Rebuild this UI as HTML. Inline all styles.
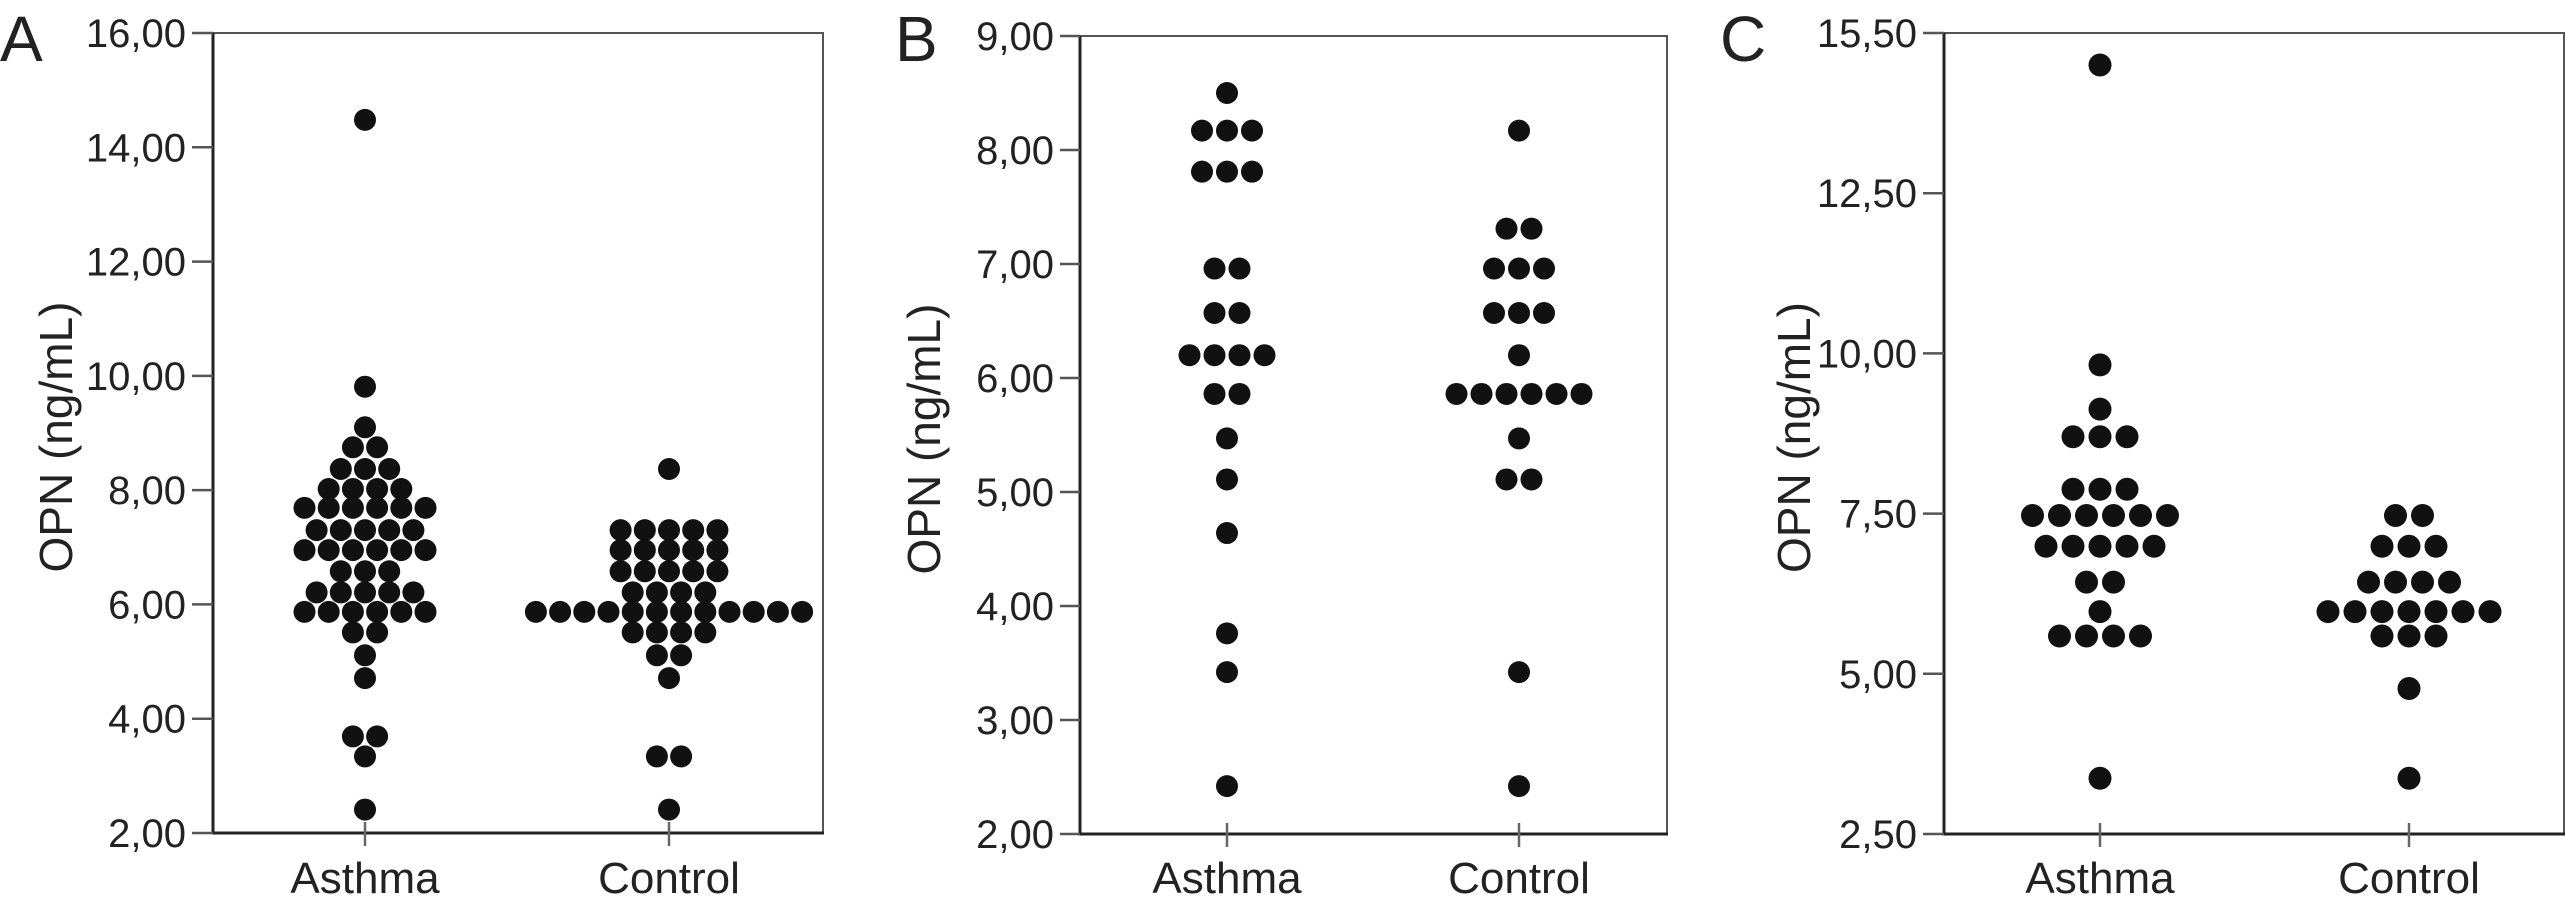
<!DOCTYPE html>
<html><head><meta charset="utf-8">
<style>
html,body{margin:0;padding:0;background:#fff;}
svg{display:block;font-family:"Liberation Sans",Arial,sans-serif;}
</style></head>
<body>
<svg id="fig" width="2566" height="906" viewBox="0 0 2566 906" xmlns="http://www.w3.org/2000/svg"></svg>
<script>
// ---- data ----
const categories = ["Asthma", "Control"];
const aAsthma = [14.48,9.81,9.10,8.75,8.75,8.37,8.37,8.37,8.02,8.02,8.02,8.02,7.69,7.69,7.69,7.69,7.69,7.69,7.30,7.30,7.30,7.30,7.30,6.95,6.95,6.95,6.95,6.95,6.95,6.58,6.58,6.58,6.21,6.21,6.21,6.21,6.21,5.87,5.87,5.87,5.87,5.87,5.87,5.51,5.51,5.11,4.71,3.69,3.69,3.34,2.41];
const aControl = [8.37,7.30,7.30,7.30,7.30,7.30,6.95,6.95,6.95,6.95,6.95,6.58,6.58,6.58,6.58,6.58,6.21,6.21,6.21,6.21,5.87,5.87,5.87,5.87,5.87,5.87,5.87,5.87,5.87,5.87,5.87,5.87,5.51,5.51,5.51,5.51,5.11,5.11,4.71,3.34,3.34,2.41];
const aTicks = ["2,00","4,00","6,00","8,00","10,00","12,00","14,00","16,00"];
const aTickVals = [2,4,6,8,10,12,14,16];
const bAsthma = [8.50,8.17,8.17,8.17,7.81,7.81,7.81,6.96,6.96,6.57,6.57,6.20,6.20,6.20,6.20,5.86,5.86,5.47,5.11,4.64,3.76,3.42,2.42];
const bControl = [8.17,7.31,7.31,6.96,6.96,6.96,6.57,6.57,6.57,6.20,5.86,5.86,5.86,5.86,5.86,5.86,5.47,5.11,5.11,3.42,2.42];
const bTicks = ["2,00","3,00","4,00","5,00","6,00","7,00","8,00","9,00"];
const bTickVals = [2,3,4,5,6,7,8,9];
const cAsthma = [14.5,9.82,9.13,8.70,8.70,8.70,7.88,7.88,7.88,7.47,7.47,7.47,7.47,7.47,7.47,6.99,6.99,6.99,6.99,6.99,6.43,6.43,5.97,5.59,5.59,5.59,5.59,3.37];
const cControl = [7.47,7.47,6.99,6.99,6.99,6.43,6.43,6.43,6.43,5.97,5.97,5.97,5.97,5.97,5.97,5.97,5.59,5.59,5.59,4.77,3.37];
const cTicks = ["2,50","5,00","7,50","10,00","12,50","15,50"];
const cTickVals = [2.5,5,7.5,10,12.5,15];

const NS = "http://www.w3.org/2000/svg";
const svg = document.getElementById("fig");
function el(tag, attrs, parent){
  const e = document.createElementNS(NS, tag);
  for (const k in attrs) e.setAttribute(k, attrs[k]);
  (parent||svg).appendChild(e);
  return e;
}

const panels = [
  {id:"a", letter:"A", lx:0, ly:61, left:213, right:823, top:33, bottom:833, ymin:2, ymax:16,
   tickVals:aTickVals, ticks:aTicks, series:[aAsthma,aControl], cx:[365,669], sp:24.2, r:11, titleX:72, tickLen:21},
  {id:"b", letter:"B", lx:895, ly:61, left:1080, right:1667, top:36, bottom:834, ymin:2, ymax:9,
   tickVals:bTickVals, ticks:bTicks, series:[bAsthma,bControl], cx:[1227,1519], sp:25, r:11, titleX:940, tickLen:20},
  {id:"c", letter:"C", lx:1720, ly:61, left:1944, right:2564, top:33, bottom:834, ymin:2.5, ymax:15,
   tickVals:cTickVals, ticks:cTicks, series:[cAsthma,cControl], cx:[2100,2409], sp:27, r:11.5, titleX:1810, tickLen:21}
];

panels.forEach(p => {
  const g = el("g", {});
  
  
  const y = v => p.bottom - (v - p.ymin) / (p.ymax - p.ymin) * (p.bottom - p.top);

  const letter = el("text", {x:p.lx, y:p.ly, "font-size":64, fill:"#222"}, g);
  letter.textContent = p.letter;
  
  

  const frame = el("rect", {x:p.left, y:p.top, width:p.right-p.left, height:p.bottom-p.top, fill:"none", stroke:"#555", "stroke-width":2}, g);
  
  
  const yaxis = el("line", {x1:p.left, y1:p.top, x2:p.left, y2:p.bottom+1.5, stroke:"#222", "stroke-width":3}, g);
  
  
  const xaxis = el("line", {x1:p.left, y1:p.bottom, x2:p.right+1, y2:p.bottom, stroke:"#222", "stroke-width":3}, g);
  
  

  p.tickVals.forEach((v,i) => {
    const ty = y(v);
    const t = el("line", {x1:p.left-p.tickLen, y1:ty, x2:p.left, y2:ty, stroke:"#555", "stroke-width":2.5}, g);
    
    
    const lab = el("text", {x:p.left-p.tickLen-6, y:ty+14, "font-size":40, "text-anchor":"end", fill:"#222"}, g);
    lab.textContent = p.ticks[i];
    
    
  });

  const ty = (p.top + p.bottom) / 2 + 4;
  const title = el("text", {x:p.titleX, y:ty, "font-size":46, "text-anchor":"middle", fill:"#222", transform:`rotate(-90 ${p.titleX} ${ty})`}, g);
  title.textContent = "OPN (ng/mL)";
  
  

  categories.forEach((c,ci) => {
    const x = p.cx[ci];
    const tk = el("line", {x1:x, y1:p.bottom-11, x2:x, y2:p.bottom+13, stroke:"#666", "stroke-width":2.5}, g);
    
    
    const lab = el("text", {x:x, y:893, "font-size":44, "text-anchor":"middle", fill:"#222"}, g);
    lab.textContent = c;
    
    

    const vals = p.series[ci];
    const groups = {};
    vals.forEach(v => { const k = v.toFixed(2); groups[k] = (groups[k]||0) + 1; });
    Object.keys(groups).forEach(k => {
      const n = groups[k], v = parseFloat(k);
      for (let i = 0; i < n; i++) {
        const dx = (i - (n-1)/2) * p.sp;
        const d = el("circle", {cx:x+dx, cy:y(v), r:p.r, fill:"#111"}, g);
        
        
      }
    });
  });
});
</script>
</body></html>
